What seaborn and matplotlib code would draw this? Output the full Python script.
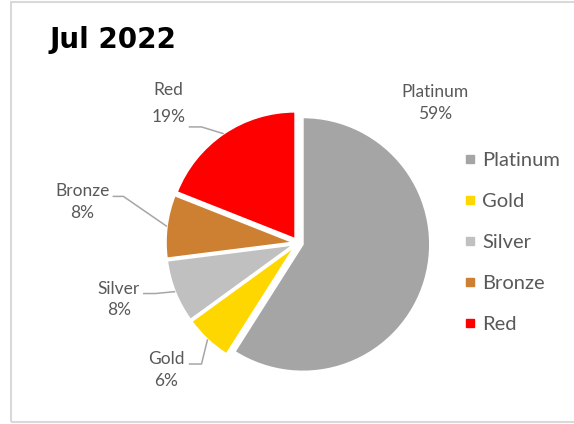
import numpy as np
import seaborn as sns
import matplotlib.pyplot as plt
from matplotlib.patches import Rectangle
from matplotlib.lines import Line2D

# Данные
categories = ['Platinum', 'Gold', 'Silver', 'Bronze', 'Red']
shares = [59, 6, 8, 8, 19]
colors = ['#A5A5A5', '#FFD700', '#C0C0C0', '#CD7F32', '#FF0000']
title = 'Jul 2022'

# Положение подписей (в координатах осей, радиус пирога = 1)
label_pos = [(1.08, 1.10), (-1.04, -1.00), (-1.41, -0.445), (-1.70, 0.325), (-1.02, 1.10)]
label_spacing = [1.45, 1.45, 1.45, 1.45, 1.85]
# выноски: x начала, x излома, y горизонтального участка (None — без выноски)
leaders = [None, (-0.86, -0.76, -0.953), (-1.22, -1.125, -0.398),
           (-1.46, -1.375, 0.367), (-0.86, -0.76, 0.914)]

sns.set_theme(style="white")
plt.rcParams['font.family'] = ['Lato', 'DejaVu Sans']
text_color = '#595959'

W, H = 574, 424
fig = plt.figure(figsize=(W / 100, H / 100), dpi=100)
cx, cy, R = 298, 243, 127
half = 150
ax = fig.add_axes([(cx - half) / W, (H - cy - half) / H, 2 * half / W, 2 * half / H])

explode = [0.04] * len(shares)
wedges, _ = ax.pie(shares, colors=colors, startangle=90, counterclock=False,
                   explode=explode, radius=1.0,
                   wedgeprops=dict(edgecolor='white', linewidth=1.2))
ax.set_xlim(-half / R, half / R)
ax.set_ylim(-half / R, half / R)
ax.set_aspect('equal')
ax.axis('off')

for i, w in enumerate(wedges):
    pct = shares[i] / sum(shares) * 100
    lx, ly = label_pos[i]
    ax.text(lx, ly, f'{categories[i]}\n{pct:.0f}%', ha='center', va='center',
            fontsize=12.5, color=text_color, linespacing=label_spacing[i])
    if leaders[i] is not None:
        mid = np.deg2rad((w.theta1 + w.theta2) / 2)
        ox, oy = w.center
        ex, ey = ox + np.cos(mid), oy + np.sin(mid)
        x0, x1, y = leaders[i]
        ax.plot([x0, x1, ex], [y, y, ey], color='#A6A6A6', lw=1.1,
                solid_capstyle='butt', clip_on=False)

# Легенда
handles = [Line2D([0], [0], marker='s', linestyle='none', markersize=5.5,
                  markerfacecolor=c, markeredgecolor=c) for c in colors]
leg = fig.legend(handles, categories, loc='upper left',
                 bbox_to_anchor=(454 / W, 1 - 142 / H), frameon=False,
                 fontsize=14.5, handlelength=0.6, handletextpad=0.3,
                 labelspacing=1.18, borderpad=0)
for t in leg.get_texts():
    t.set_color(text_color)

# Заголовок
fig.text(50 / W, 1 - 48 / H, title, fontsize=20, fontweight='bold',
         family='DejaVu Sans', color='black', va='baseline', ha='left')

# Рамка
fig.patches.append(Rectangle((11 / W, 2 / H), 1.0, 420 / H, transform=fig.transFigure,
                             fill=False, edgecolor='#D9D9D9', linewidth=1.5))

fig.savefig('out.png', dpi=100)
